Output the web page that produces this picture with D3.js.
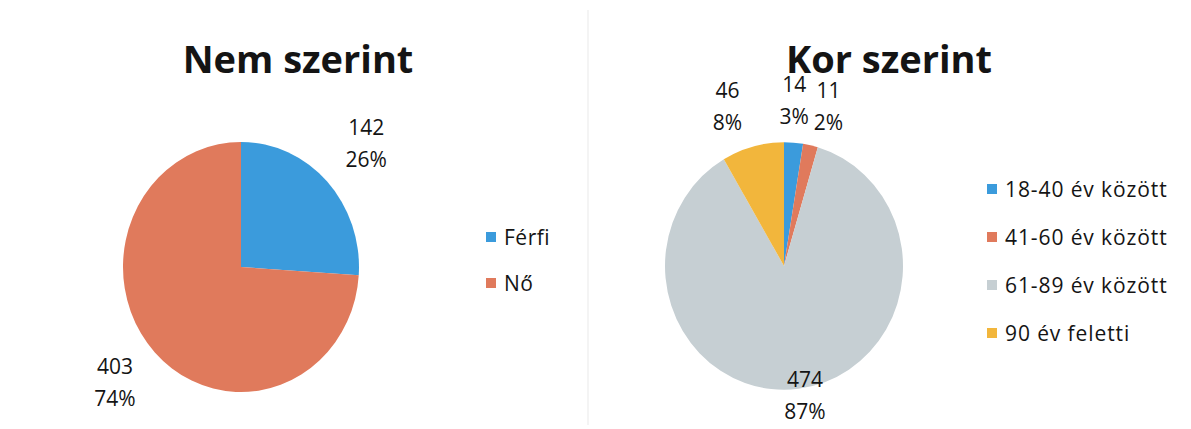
<!DOCTYPE html>
<html>
<head>
<meta charset="utf-8">
<script src="https://cdn.jsdelivr.net/npm/d3@7"></script>
<style>
  body { margin: 0; background: #fff; }
  text { font-family: "Open Sans", sans-serif; fill: #141414; }
</style>
</head>
<body>
<div id="chart"></div>
<script>
// data
var sexCategories = ['Férfi', 'Nő'];
var sexValues = [142, 403];
var ageCategories = ['18-40 év között', '41-60 év között', '61-89 év között', '90 év feletti'];
var ageValues = [14, 11, 474, 46];

var width = 1191, height = 429;
var svg = d3.select('#chart').append('svg')
  .attr('width', width)
  .attr('height', height);

// faint divider like the scan
svg.append('line')
  .attr('x1', 588).attr('x2', 588).attr('y1', 10).attr('y2', 425)
  .attr('stroke', '#f0f0f0').attr('stroke-width', 1.5);

var fmtPct = d3.format('.0%');

function drawPie(opts) {
  var total = d3.sum(opts.values);
  var color = d3.scaleOrdinal().domain(opts.categories).range(opts.colors);
  var pie = d3.pie().sort(null).value(function(d) { return d; });
  var arcs = pie(opts.values);
  var arc = d3.arc().innerRadius(0).outerRadius(opts.r);

  var g = svg.append('g')
    .attr('transform', 'translate(' + opts.cx + ',' + opts.cy + ') scale(1,' + opts.sy + ')');
  g.selectAll('path').data(arcs).enter().append('path')
    .attr('d', arc)
    .attr('fill', function(d, i) { return color(opts.categories[i]); });

  svg.append('text')
    .attr('x', opts.titleX).attr('y', 73)
    .attr('text-anchor', 'middle')
    .style('font-size', '38px').style('font-weight', 'bold')
    .text(opts.title);

  // data labels: value and percent
  arcs.forEach(function(d, i) {
    var a = (d.startAngle + d.endAngle) / 2;
    var rr = opts.r * opts.labelR[i];
    var x = opts.cx + Math.sin(a) * rr + opts.labelDx[i];
    var y = opts.cy - Math.cos(a) * rr * opts.sy;
    var t = svg.append('text').attr('text-anchor', 'middle').style('font-size', '21px');
    t.append('tspan').attr('x', x).attr('y', y - 16).text(opts.values[i]);
    t.append('tspan').attr('x', x).attr('y', y + 16).text(fmtPct(opts.values[i] / total));
  });

  // legend
  var lg = svg.append('g');
  opts.categories.forEach(function(c, i) {
    var y = opts.legendY + i * opts.legendStep;
    lg.append('rect')
      .attr('x', opts.legendX).attr('y', y - 5)
      .attr('width', 10).attr('height', 10)
      .attr('fill', color(c));
    lg.append('text')
      .attr('x', opts.legendX + 18).attr('y', y + 8)
      .style('font-size', '21px')
      .style('letter-spacing', opts.spacing)
      .text(c);
  });
}

drawPie({
  title: 'Nem szerint', titleX: 298,
  categories: sexCategories, values: sexValues,
  colors: ['#3b9bdc', '#e07a5c'],
  cx: 241, cy: 267, r: 118, sy: 1.06,
  labelR: [1.36, 1.44], labelDx: [8, -2],
  legendX: 486, legendY: 237, legendStep: 46, spacing: '0.5px'
});

drawPie({
  title: 'Kor szerint', titleX: 889,
  categories: ageCategories, values: ageValues,
  colors: ['#3b9bdc', '#e07a5c', '#c6cfd3', '#f2b63c'],
  cx: 784, cy: 266, r: 119, sy: 1.04,
  labelR: [1.28, 1.26, 1.115, 1.27], labelDx: [-2, 11, 5, -17],
  legendX: 987, legendY: 189, legendStep: 48, spacing: '0.9px'
});
</script>
</body>
</html>
